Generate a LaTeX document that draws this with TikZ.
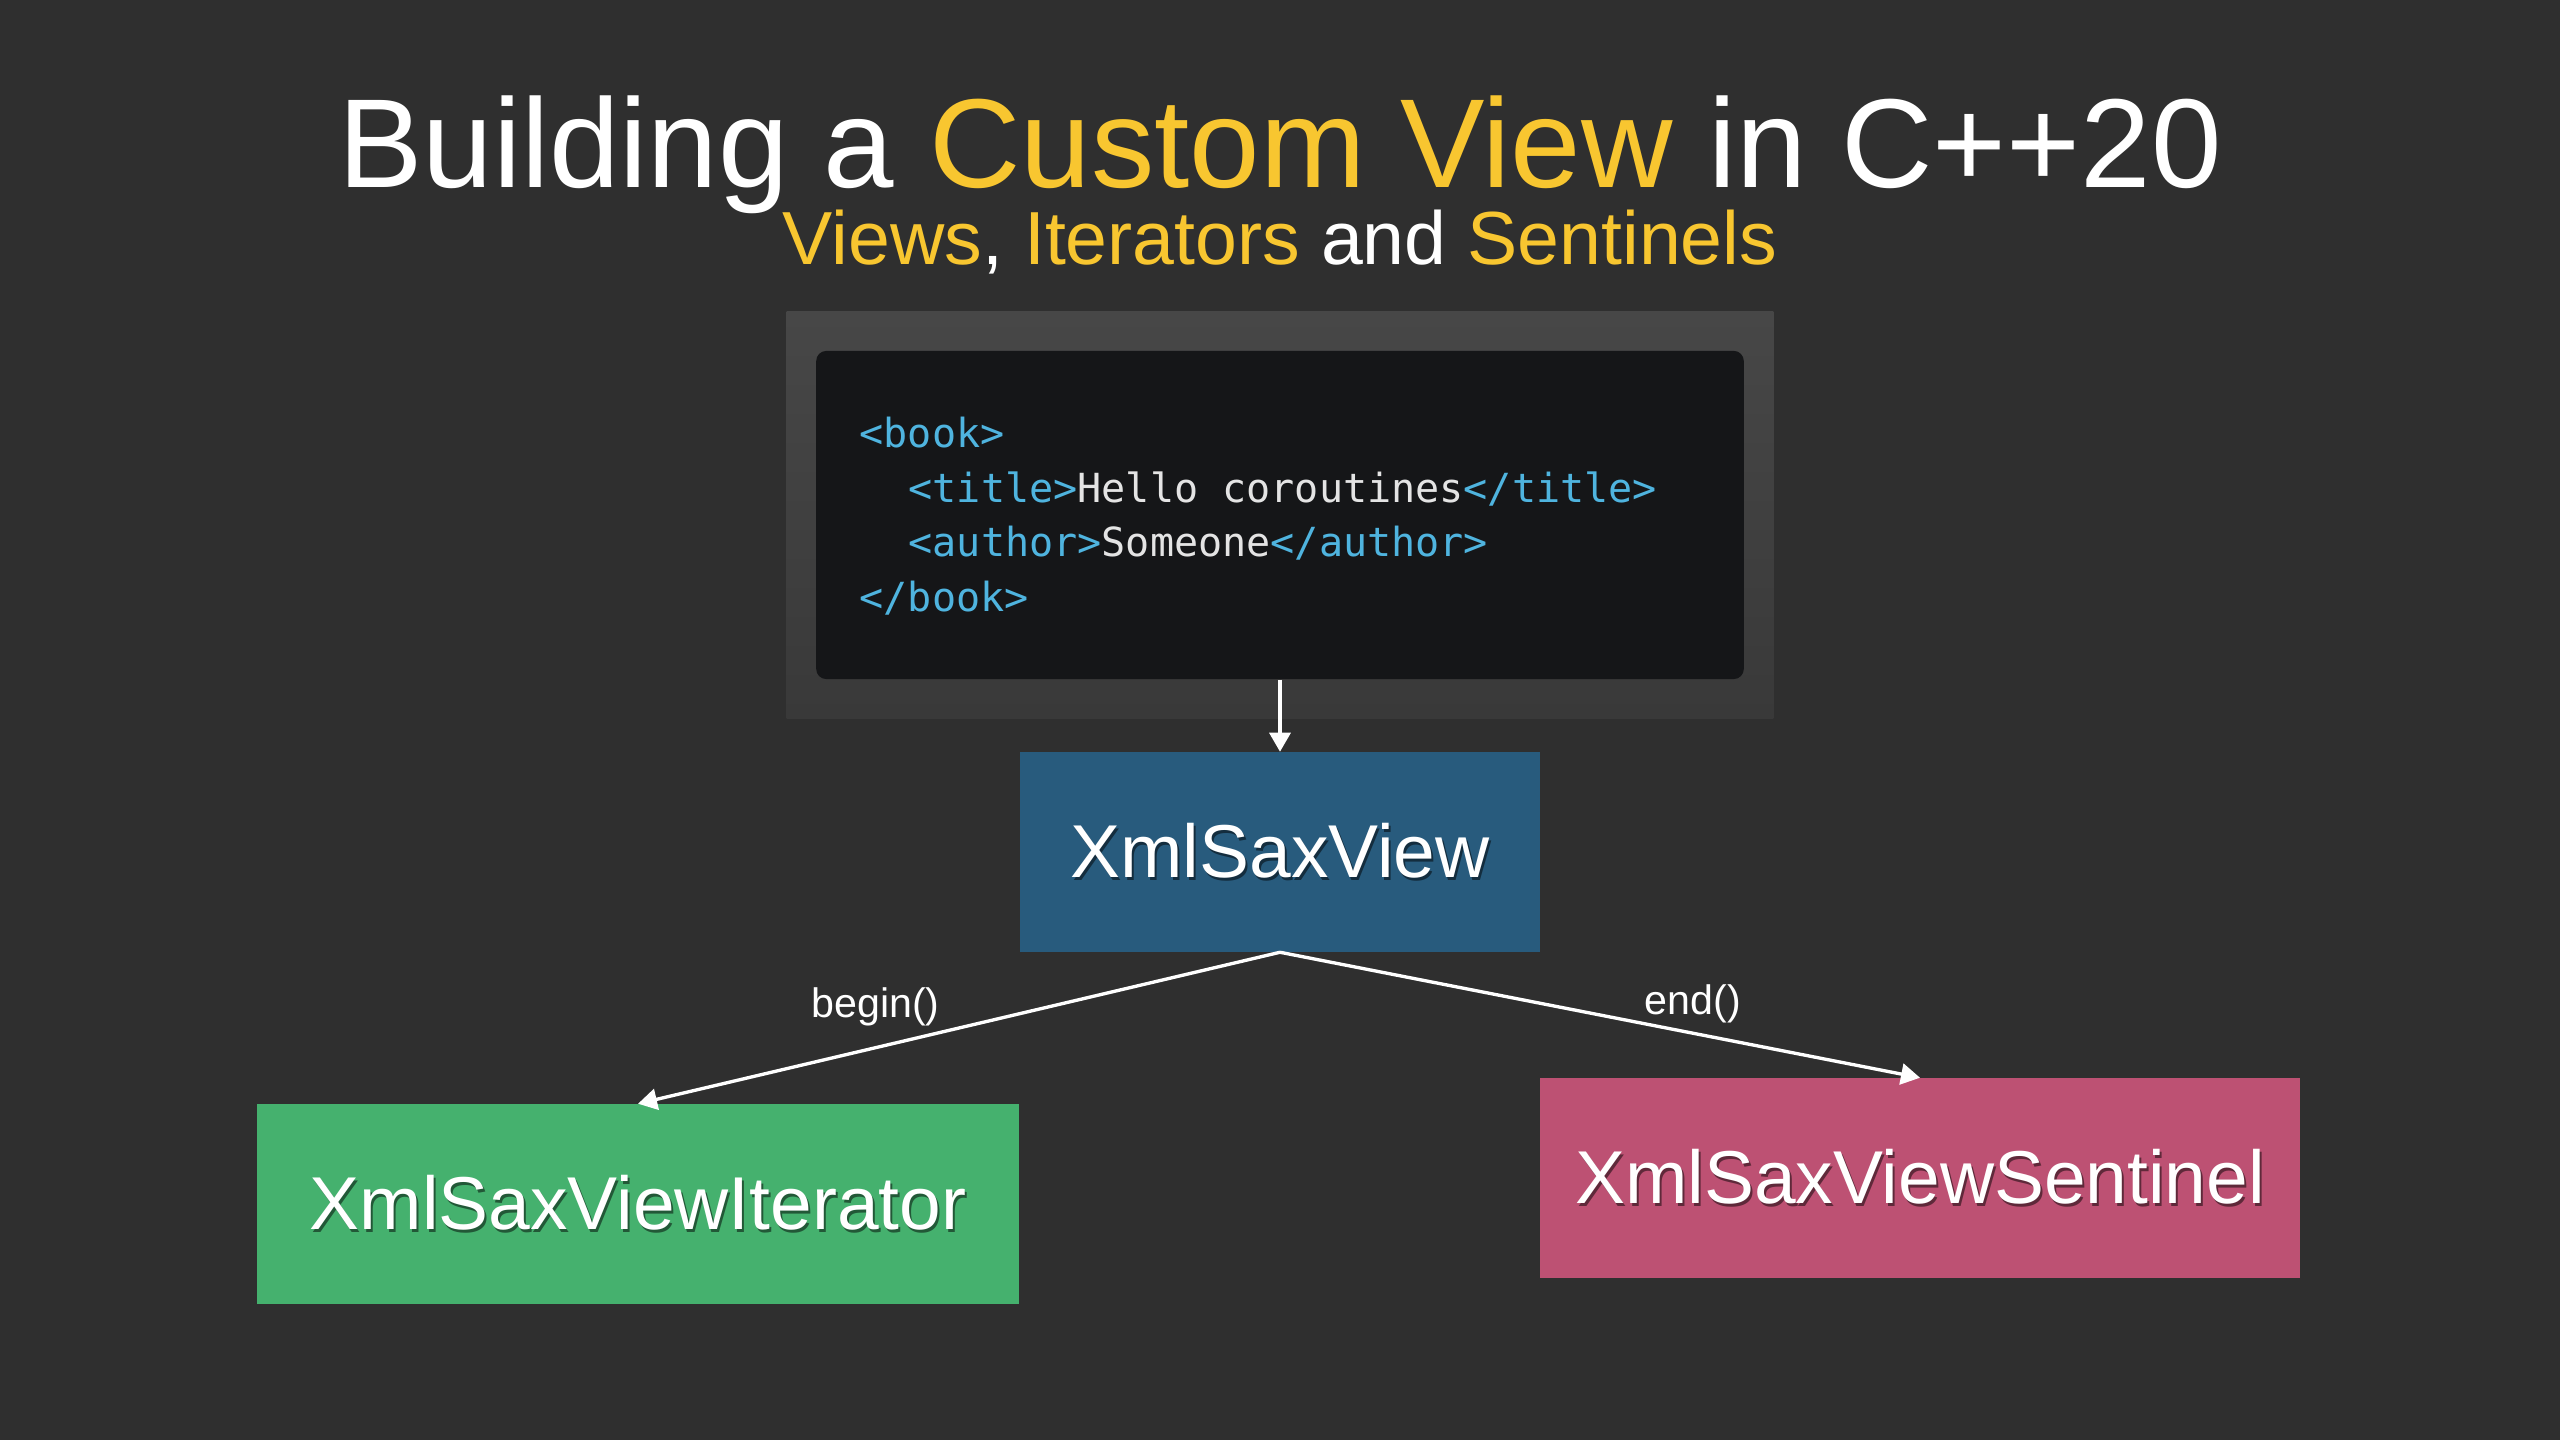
\documentclass[tikz,border=0pt]{standalone}
\usepackage{fontspec}
\setmainfont{Liberation Sans}
\setmonofont{DejaVu Sans Mono}
\usetikzlibrary{arrows.meta,positioning,shapes}

\definecolor{bgGray}{HTML}{2F2F2F}
\definecolor{accent}{HTML}{F8C630}
\definecolor{frameTop}{HTML}{474747}
\definecolor{frameBottom}{HTML}{393939}
\definecolor{codeBg}{HTML}{151618}
\definecolor{tagBlue}{HTML}{4FB4DF}
\definecolor{codeText}{HTML}{E4E4E4}
\definecolor{viewBlue}{HTML}{285B7D}
\definecolor{iterGreen}{HTML}{45B16E}
\definecolor{sentPink}{HTML}{BD5173}

% text with a small drop shadow
\newcommand{\shadowed}[2]{\makebox[0pt][l]{\hspace{0.6pt}\raisebox{-0.9pt}{\textcolor{#1!50!black}{#2}}}#2}

\begin{document}
\begin{tikzpicture}[x = 0.01cm, y = -0.01cm,
  viewbox/.style={rectangle, inner sep=0pt, minimum height=1.99cm, text=white, font=\fontsize{21.3}{25}\selectfont},
  codeline/.style={anchor=base west, inner sep=0pt, text=codeText, font=\ttfamily\fontsize{11.4}{14}\selectfont},
  flow/.style={white, line width=0.95pt, -{Triangle[width=0.21cm, length=0.19cm]}},
  call/.style={text=white, font=\fontsize{11.7}{14}\selectfont}]
\fill[bgGray] (0,0) rectangle (2560,1440);
\useasboundingbox (0,0) rectangle (2560,1440);
% Title
\node[anchor=base, inner sep=0pt, text=white, font=\fontsize{36}{40}\selectfont] (title) at (1280,188) {Building a \textcolor{accent}{Custom View} in C++20};
\node[anchor=base, inner sep=0pt, text=white, font=\fontsize{21.4}{24}\selectfont] (subtitle) at (1280,265) {\textcolor{accent}{Views}, \textcolor{accent}{Iterators} and \textcolor{accent}{Sentinels}};
% Code sample
\node[top color=frameTop, bottom color=frameBottom, minimum width=9.86cm, minimum height=4.06cm, inner sep=0pt] (codeFrame) at (1280,515) {};
\node[fill=codeBg, rounded corners=0.1cm, minimum width=9.27cm, minimum height=3.28cm, inner sep=0pt] (xmlCode) at (1280,515) {};
\node[codeline] (lineBookOpen) at (859,448) {\textcolor{tagBlue}{<book>}};
\node[codeline] (lineTitle) at (908,503) {\textcolor{tagBlue}{<title>}Hello coroutines\textcolor{tagBlue}{</title>}};
\node[codeline] (lineAuthor) at (908,557) {\textcolor{tagBlue}{<author>}Someone\textcolor{tagBlue}{</author>}};
\node[codeline] (lineBookClose) at (859,612) {\textcolor{tagBlue}{</book>}};
% Types
\node[viewbox, fill=viewBlue, minimum width=5.2cm] (xmlSaxView) at (1280,852) {\shadowed{viewBlue}{XmlSaxView}};
\node[viewbox, fill=iterGreen, minimum width=7.61cm] (iterator) at (638,1204) {\shadowed{iterGreen}{XmlSaxViewIterator}};
\node[viewbox, fill=sentPink, minimum width=7.6cm] (sentinel) at (1920,1178) {\shadowed{sentPink}{XmlSaxViewSentinel}};
% Connectors
\draw[flow] (xmlCode.south) -- (xmlSaxView.north);
\draw[flow] (xmlSaxView.south) -- node[call, pos=0.63, above=0.08cm] (beginLabel) {begin()} (iterator.north);
\draw[flow] (xmlSaxView.south) -- node[call, pos=0.645, above=-0.03cm] (endLabel) {end()} (sentinel.north);
\end{tikzpicture}
\end{document}
